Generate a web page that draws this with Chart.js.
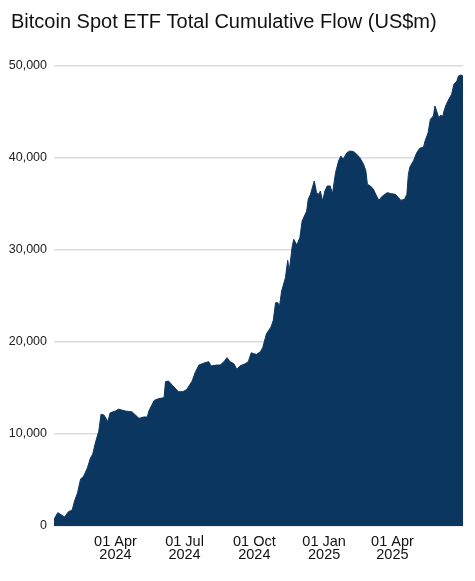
<!DOCTYPE html>
<html lang="en">
<head>
  <meta charset="UTF-8">
  <title>Bitcoin Spot ETF Total Cumulative Flow</title>
  <script src="https://cdn.jsdelivr.net/npm/chart.js"></script>
  <style>
    body {
      margin: 0;
      background: #fff;
    }
    #wrap {
      width: 475px;
      height: 581px;
    }
  </style>
</head>
<body>
  <div id="wrap"><canvas id="flowChart"></canvas></div>

  <script>
    // readings taken off the chart, US$m
    const dates = [
      '2024-01-11', '2024-01-16', '2024-01-25', '2024-01-30', '2024-02-04', '2024-02-07',
      '2024-02-11', '2024-02-15', '2024-02-19', '2024-02-24', '2024-02-28', '2024-03-02',
      '2024-03-06', '2024-03-10', '2024-03-13', '2024-03-17', '2024-03-22', '2024-03-25',
      '2024-04-01', '2024-04-05', '2024-04-14', '2024-04-23', '2024-05-02', '2024-05-08',
      '2024-05-13', '2024-05-15', '2024-05-22', '2024-05-28', '2024-06-04', '2024-06-06',
      '2024-06-10', '2024-06-15', '2024-06-23', '2024-06-29', '2024-07-04', '2024-07-11',
      '2024-07-15', '2024-07-20', '2024-07-28', '2024-08-02', '2024-08-05', '2024-08-13',
      '2024-08-17', '2024-08-22', '2024-08-26', '2024-08-30', '2024-09-04', '2024-09-08',
      '2024-09-12', '2024-09-19', '2024-09-23', '2024-09-27', '2024-09-30', '2024-10-04',
      '2024-10-09', '2024-10-12', '2024-10-17', '2024-10-20', '2024-10-23', '2024-10-26',
      '2024-10-29', '2024-11-01', '2024-11-03', '2024-11-06', '2024-11-11', '2024-11-14',
      '2024-11-16', '2024-11-20', '2024-11-22', '2024-11-26', '2024-11-30', '2024-12-03',
      '2024-12-09', '2024-12-11', '2024-12-14', '2024-12-19', '2024-12-22', '2024-12-25',
      '2024-12-27', '2024-12-30', '2025-01-02', '2025-01-05', '2025-01-09', '2025-01-12',
      '2025-01-16', '2025-01-20', '2025-01-23', '2025-01-26', '2025-01-31', '2025-02-04',
      '2025-02-09', '2025-02-13', '2025-02-17', '2025-02-22', '2025-02-25', '2025-02-27',
      '2025-03-03', '2025-03-07', '2025-03-10', '2025-03-14', '2025-03-18', '2025-03-25',
      '2025-03-31', '2025-04-05', '2025-04-09', '2025-04-12', '2025-04-17', '2025-04-20',
      '2025-04-22', '2025-04-24', '2025-04-29', '2025-05-03', '2025-05-07', '2025-05-12',
      '2025-05-14', '2025-05-18', '2025-05-21', '2025-05-25', '2025-05-27', '2025-05-29',
      '2025-06-01', '2025-06-04', '2025-06-06', '2025-06-08', '2025-06-11', '2025-06-15',
      '2025-06-18', '2025-06-21', '2025-06-25', '2025-06-27', '2025-06-30', '2025-07-03'
    ];
    const flows = [
      700, 1450, 980, 1550, 1740, 2700,
      3600, 5100, 5400, 6300, 7400, 7800,
      9200, 10300, 12150, 12050, 11350, 12300,
      12500, 12700, 12500, 12400, 11700, 11850,
      11850, 12500, 13650, 13850, 13950, 15700,
      15750, 15300, 14600, 14600, 14850, 15750,
      16670, 17500, 17750, 17860, 17400, 17500,
      17500, 17860, 18300, 17860, 17640, 17030,
      17400, 17640, 17860, 18840, 18730, 18660,
      18950, 19380, 20900, 21270, 21630, 22360,
      24270, 24270, 23800, 25540, 27000, 28880,
      27720, 30430, 31160, 30540, 31340, 33150,
      34240, 35510, 36050, 37500, 36230, 36050,
      36410, 35330, 36410, 36960, 36960, 36120,
      38400, 39670, 40220, 39860, 40580, 40760,
      40690, 40400, 40040, 39310, 38590, 37140,
      36960, 36590, 36050, 35400, 35800, 36230,
      36120, 36050, 35690, 35400, 35510, 36050,
      38220, 39020, 39750, 40580, 41060, 41200,
      41850, 42750, 44210, 44570, 45650, 45180,
      44380, 44670, 44460, 45110, 45830, 46490,
      46920, 48010, 48370, 48910, 49020, 48910
    ];
    const tickDates = ['2024-04-01', '2024-07-01', '2024-10-01', '2025-01-01', '2025-04-01'];
    const yTicks = [0, 10000, 20000, 30000, 40000, 50000];
    const monthNames = ['Jan', 'Feb', 'Mar', 'Apr', 'May', 'Jun', 'Jul', 'Aug', 'Sep', 'Oct', 'Nov', 'Dec'];

    const DAY = 86400000;
    const start = Date.parse(dates[0]);
    const dayOf = d => Math.round((Date.parse(d) - start) / DAY);

    function dateLabel(day) {
      const d = new Date(start + day * DAY);
      return [String(d.getUTCDate()).padStart(2, '0') + ' ' + monthNames[d.getUTCMonth()], String(d.getUTCFullYear())];
    }

    const points = dates.map((d, i) => ({ x: dayOf(d), y: flows[i] }));

    // nudge the title in from the left edge
    const titleIndent = {
      id: 'titleIndent',
      afterLayout(chart) {
        if (chart.titleBlock) chart.titleBlock.left = 11;
      }
    };

    const ctx = document.getElementById('flowChart').getContext('2d');
    new Chart(ctx, {
      type: 'line',
      data: {
        datasets: [{
          data: points,
          borderColor: '#0b3660',
          backgroundColor: '#0b3660',
          borderWidth: 1,
          pointRadius: 0,
          fill: 'origin',
          tension: 0
        }]
      },
      plugins: [titleIndent],
      options: {
        responsive: true,
        maintainAspectRatio: false,
        animation: false,
        layout: { padding: { left: 0, right: 12, top: 0, bottom: 0 } },
        plugins: {
          legend: { display: false },
          tooltip: { enabled: false },
          title: {
            display: true,
            text: 'Bitcoin Spot ETF Total Cumulative Flow (US$m)',
            align: 'start',
            color: '#111',
            font: { family: 'Liberation Sans, Arial, sans-serif', size: 20, weight: 'normal' },
            padding: { top: 10, bottom: 32 }
          }
        },
        scales: {
          x: {
            type: 'linear',
            min: 0,
            max: dayOf(dates[dates.length - 1]),
            grid: { display: false, drawTicks: false },
            border: { display: false },
            afterBuildTicks: s => { s.ticks = tickDates.map(d => ({ value: dayOf(d) })); },
            afterFit: s => { s.height = 55; },
            ticks: {
              autoSkip: false,
              maxRotation: 0,
              padding: 9,
              color: '#111',
              font: { family: 'Liberation Sans, Arial, sans-serif', size: 14.5, lineHeight: 0.92 },
              callback: v => dateLabel(v)
            }
          },
          y: {
            min: 0,
            max: 50000,
            grid: { color: '#dcdcdc', lineWidth: 1.5, drawTicks: false },
            border: { display: false },
            afterBuildTicks: s => { s.ticks = yTicks.map(v => ({ value: v })); },
            afterFit: s => { s.width = 54; },
            ticks: {
              padding: 7,
              color: '#222',
              font: { family: 'Liberation Sans, Arial, sans-serif', size: 12.5 },
              callback: v => v.toLocaleString('en-US')
            }
          }
        }
      }
    });
  </script>
</body>
</html>
